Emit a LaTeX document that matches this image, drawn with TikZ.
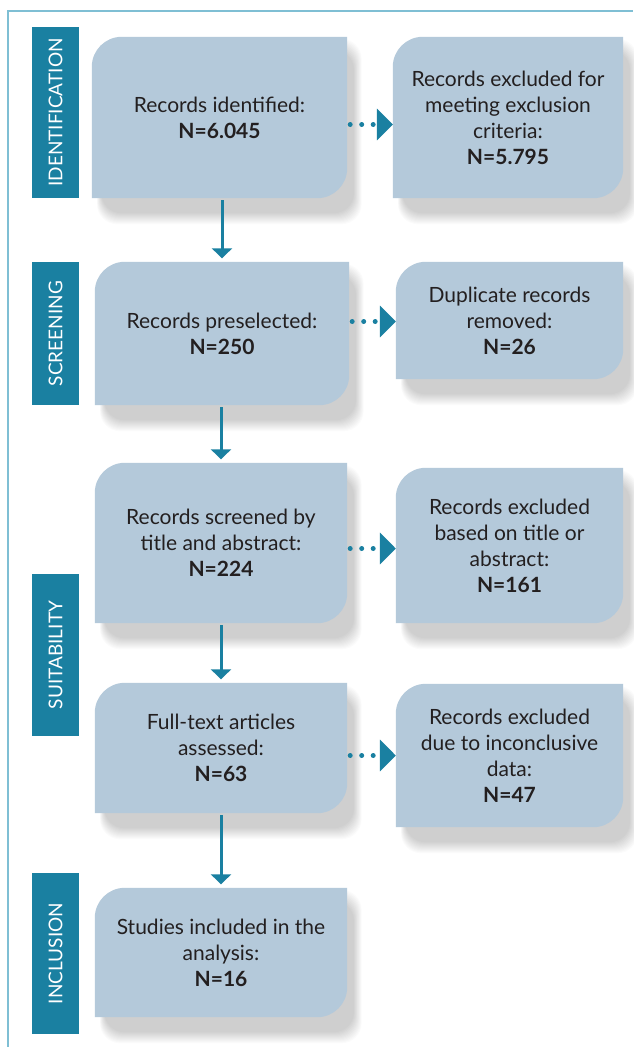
\documentclass[tikz,border=0pt]{standalone}
\usepackage{fontspec}
\setmainfont{Lato}
\usetikzlibrary{arrows.meta,backgrounds,calc}
\definecolor{boxfill}{HTML}{B4C9DA}
\definecolor{stageblue}{HTML}{1A80A1}
\definecolor{framecol}{HTML}{7FBFD4}
\definecolor{txtcol}{HTML}{231F20}
\tikzset{
  boxtext/.style={inner sep=0pt, align=center, text=txtcol, font=\fontsize{21}{26}\selectfont},
  stagebar/.style={fill=stageblue, inner sep=0pt, rotate=90, text=white, font=\fontsize{19}{19}\selectfont},
  flowarrow/.style={draw=stageblue, line width=3pt, -{Triangle[length=10pt,width=20pt]}, shorten >=3.5pt, shorten <=2pt},
  dotarrow/.style={draw=stageblue, line width=5pt, line cap=round, dash pattern=on 0pt off 11.5pt, -{Triangle[length=16pt,width=31pt]}, shorten <=3pt},
  shapefill/.style={fill=boxfill},
  shadowlayer/.style={fill=black, fill opacity=0.017},
  framelinestyle/.style={draw=framecol, line width=2pt}
}
\newcommand\cornerbox[1]{%
  \foreach \d in {1,...,12} {%
    \fill[shadowlayer, rounded corners=20pt]
      ($(#1.south west)+(10-0.4*\d,14+\d)$) rectangle ($(#1.north east)+(6+0.7*\d,14-\d)$);
  }%
  \fill[shapefill] (#1.south west) -- ([yshift=-30pt]#1.north west)
    arc[start angle=180,end angle=90,radius=30pt] -- (#1.north east)
    -- ([yshift=30pt]#1.south east) arc[start angle=0,end angle=-90,radius=30pt] -- cycle;}
\begin{document}
\begin{tikzpicture}[x=1pt,y=-1pt]
\useasboundingbox (0,0) rectangle (633,1047);
% frame
\coordinate (fbl) at (8,1047);
\coordinate (ftl) at (8,11);
\coordinate (ftr) at (633,11);
\draw[framelinestyle] (fbl) -- (ftl) -- (ftr);

% stage bars
\node[stagebar, minimum width=171pt, minimum height=47pt] (s1) at (55.5,112.5) {IDENTIFICATION};
\node[stagebar, minimum width=143pt, minimum height=47pt] (s2) at (55.5,333.5) {SCREENING};
\node[stagebar, minimum width=162pt, minimum height=47pt] (s3) at (55.5,655) {SUITABILITY};
\node[stagebar, minimum width=161pt, minimum height=47pt] (s4) at (55.5,953.5) {INCLUSION};

% main boxes
\node[boxtext, minimum width=255pt, minimum height=161pt] (b1) at (219.5,117.5) {Records identified:\\\textbf{N=6.045}};
\node[boxtext, minimum width=254pt, minimum height=143pt] (b2) at (222,333.5) {Records preselected:\\\textbf{N=250}};
\node[boxtext, minimum width=252pt, minimum height=160pt] (b3) at (221,543) {Records screened by\\title and abstract:\\\textbf{N=224}};
\node[boxtext, minimum width=252pt, minimum height=130pt] (b4) at (221,748) {Full-text articles\\assessed:\\\textbf{N=63}};
\node[boxtext, minimum width=252pt, minimum height=129pt] (b5) at (221,952.5) {Studies included in the\\analysis:\\\textbf{N=16}};

% right boxes
\node[boxtext, minimum width=230pt, minimum height=161pt] (r1) at (508,117.5) {Records excluded for\\meeting exclusion\\criteria:\\\textbf{N=5.795}};
\node[boxtext, minimum width=227pt, minimum height=117pt] (r2) at (509.5,320.5) {Duplicate records\\removed:\\\textbf{N=26}};
\node[boxtext, minimum width=227pt, minimum height=155pt] (r3) at (509.5,545.5) {Records excluded\\based on title or\\abstract:\\\textbf{N=161}};
\node[boxtext, minimum width=227pt, minimum height=143pt] (r4) at (509.5,755.5) {Records excluded\\due to inconclusive\\data:\\\textbf{N=47}};

\begin{scope}[on background layer]
  \fill[white] (0,0) rectangle (633,1047);
  \foreach \n in {b1,b2,b3,b4,b5,r1,r2,r3,r4} {\cornerbox{\n}}
\end{scope}

% vertical arrows
\draw[flowarrow] (b1.south -| b2.north) -- (b2.north);
\draw[flowarrow] (b2.south -| b3.north) -- (b3.north);
\draw[flowarrow] (b3.south -| b4.north) -- (b4.north);
\draw[flowarrow] (b4.south -| b5.north) -- (b5.north);

% dotted arrows
\draw[dotarrow] ([yshift=-7pt]r1.west -| b1.east) -- ([yshift=-7pt]r1.west);
\draw[dotarrow] ([yshift=-1pt]r2.west -| b2.east) -- ([yshift=-1pt]r2.west);
\draw[dotarrow] ([yshift=-3pt]r3.west -| b3.east) -- ([yshift=-3pt]r3.west);
\draw[dotarrow] (r4.west -| b4.east) -- (r4.west);
\end{tikzpicture}
\end{document}
